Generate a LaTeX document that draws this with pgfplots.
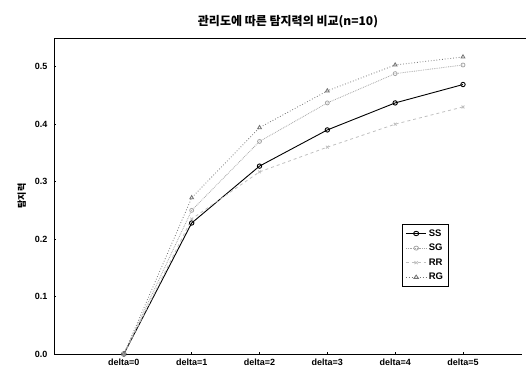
\documentclass[border=0pt]{standalone}
\usepackage{pgfplots}
\pgfplotsset{compat=1.18}
\usepackage{fontspec}
\setmainfont{Liberation Sans}
\newfontfamily\kr{Noto Sans CJK KR}
\begin{document}
\begin{tikzpicture}
\begin{axis}[
  name=ax,
  scale only axis,
  width=468pt, height=316pt,
  xmin=-1.03, xmax=5.87,
  ymin=0, ymax=0.55,
  axis lines*=left,
  axis line style={line width=0.8pt},
  xtick={0,1,2,3,4,5},
  xticklabels={delta=0,delta=1,delta=2,delta=3,delta=4,delta=5},
  ytick={0,0.1,0.2,0.3,0.4,0.5},
  yticklabel style={/pgf/number format/fixed,/pgf/number format/fixed zerofill,/pgf/number format/precision=1, xshift=-3pt},
  xticklabel style={yshift=-1pt},
  /pgf/number format/assume math mode=true,
  tick label style={font=\bfseries\fontsize{9}{10}\selectfont},
  tick align=inside, major tick length=2pt,
  tick style={black, line width=0.5pt},
  title={\kr\bfseries\fontsize{12}{14}\selectfont 관리도에 따른 탐지력의 비교(n=10)},
  title style={yshift=1pt},
  ylabel={\kr\bfseries\fontsize{9}{10}\selectfont 탐지력},
  ylabel style={yshift=2pt},
  legend style={at={(rel axis cs:0.744,0.411)}, anchor=north west, draw=black, line width=0.6pt, font=\bfseries\fontsize{9.5}{11}\selectfont, row sep=2.5pt, inner sep=3pt},
  legend image post style={xscale=1.2},
  legend cell align=left,
  clip=false,
]
\coordinate (bl) at (rel axis cs:0,0);
\coordinate (tr) at (rel axis cs:1,1);
\addplot[black, line width=0.9pt, mark=o, mark size=2.2pt, mark options={solid, fill=white}] coordinates {
(0,0) (1,0.228) (2,0.327) (3,0.39) (4,0.437) (5,0.469)};
\addlegendentry{SS}
\addplot[black!35, line width=0.8pt, densely dotted, mark=o, mark size=2pt, mark options={solid}] coordinates {
(0,0) (1,0.25) (2,0.37) (3,0.437) (4,0.488) (5,0.503)};
\addlegendentry{SG}
\addplot[black!25, line width=0.8pt, dashed, mark=x, mark size=2pt, mark options={solid}] coordinates {
(0,0) (1,0.235) (2,0.317) (3,0.36) (4,0.40) (5,0.43)};
\addlegendentry{RR}
\addplot[black!55, line width=0.8pt, dotted, mark=triangle, mark size=2.2pt, mark options={solid}] coordinates {
(0,0) (1,0.272) (2,0.394) (3,0.458) (4,0.503) (5,0.517)};
\addlegendentry{RG}
\end{axis}
\draw[line width=0.8pt] (bl |- tr) -- ([xshift=4pt]tr);
\pgfresetboundingbox
\path ([shift={(-54pt,-22pt)}]bl) rectangle ([shift={(4pt,38pt)}]tr);
\end{tikzpicture}
\end{document}
